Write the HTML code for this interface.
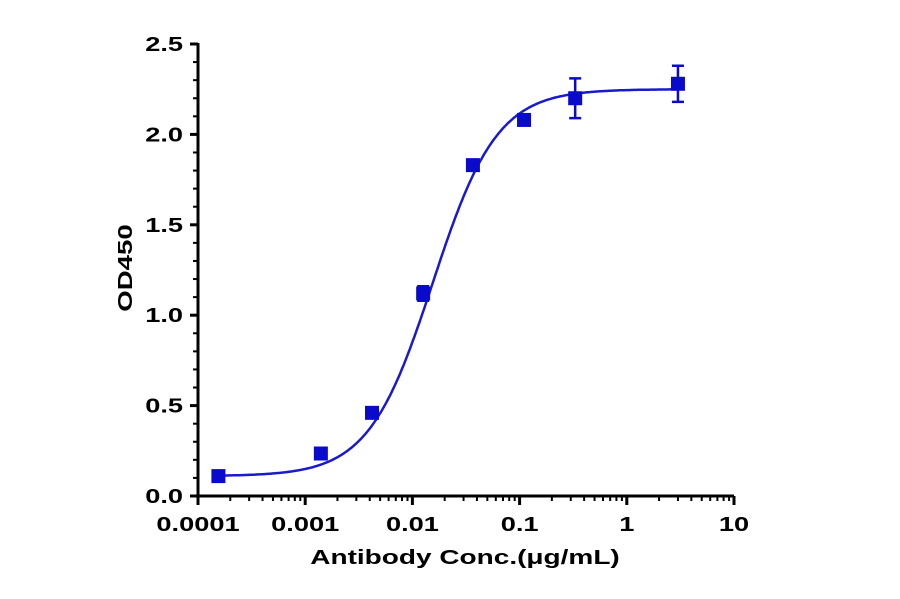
<!DOCTYPE html>
<html><head><meta charset="utf-8"><style>
body{margin:0;background:#fff}
svg text{font-family:"Liberation Sans",Arial,sans-serif;font-weight:bold;fill:#000}
</style></head><body>
<svg id="chart" width="900" height="594">
<g id="axes"></g>
<g id="marks"></g>
<text transform="translate(465,564) scale(1.4,1)" font-size="20" text-anchor="middle">Antibody Conc.(μg/mL)</text>
<text transform="translate(132,268) rotate(-90) scale(1.38,1)" font-size="20" text-anchor="middle">OD450</text>
</svg>
<script>
const xConc=[0.000155,0.0014,0.0042,0.0126,0.0367,0.11,0.33,3.0];
const yOD=[0.11,0.235,0.46,1.12,1.83,2.08,2.2,2.28];
const yErr=[0.01,0.02,0.02,0.04,0.02,0.02,0.11,0.1];
const xTicks=[0.0001,0.001,0.01,0.1,1,10];
const xTickLabels=["0.0001","0.001","0.01","0.1","1","10"];
const yTicks=[0,0.5,1.0,1.5,2.0,2.5];
const yTickLabels=["0.0","0.5","1.0","1.5","2.0","2.5"];
const fitBottom=0.11, fitTop=2.25, fitEC50=0.0155, fitHill=1.45;
const NS="http://www.w3.org/2000/svg";
const X0=198,X1=734,Y0=496,Y1=44;
const sx=v=>X0+(Math.log10(v)+4)/5*(X1-X0);
const sy=v=>Y0-v/2.5*(Y0-Y1);
function mk(tag,at,parent){const e=document.createElementNS(NS,tag);for(const k in at)e.setAttribute(k,at[k]);parent.appendChild(e);return e;}
const ax=document.getElementById('axes'),mg=document.getElementById('marks');
const xl=mk('line',{x1:X0-1,y1:Y0,x2:X1,y2:Y0,stroke:'#000','stroke-width':3},ax);


const yl=mk('line',{x1:X0,y1:Y0+1,x2:X0,y2:Y1-1,stroke:'#000','stroke-width':3},ax);


xTicks.forEach((t,i)=>{
  const x=sx(t);
  mk('line',{x1:x,y1:Y0,x2:x,y2:Y0+9,stroke:'#000','stroke-width':3},ax);
  if(i<xTicks.length-1){for(let m=2;m<=9;m++){const xm=sx(t*m);mk('line',{x1:xm,y1:Y0,x2:xm,y2:Y0+5,stroke:'#000','stroke-width':2},ax);}}
  const tx=mk('text',{transform:`translate(${x},531) scale(1.36,1)`,'font-size':20,'text-anchor':'middle'},ax);
  tx.textContent=xTickLabels[i];
  
  
});
yTicks.forEach((t,i)=>{
  const y=sy(t);
  mk('line',{x1:X0-8,y1:y,x2:X0,y2:y,stroke:'#000','stroke-width':3},ax);
  if(i<yTicks.length-1){for(let m=1;m<5;m++){const ym=sy(t+m*0.1);mk('line',{x1:X0-5,y1:ym,x2:X0,y2:ym,stroke:'#000','stroke-width':2},ax);}}
  const tx=mk('text',{transform:`translate(${X0-15},${y+7}) scale(1.36,1)`,'font-size':20,'text-anchor':'end'},ax);
  tx.textContent=yTickLabels[i];
  
  
});
let d='';
for(let k=0;k<=300;k++){const lx=Math.log10(xConc[0])+k/300*(Math.log10(xConc[xConc.length-1])-Math.log10(xConc[0]));const c=Math.pow(10,lx);
 const v=fitBottom+(fitTop-fitBottom)/(1+Math.pow(fitEC50/c,fitHill));d+=(k?'L':'M')+sx(c).toFixed(1)+','+sy(v).toFixed(1);}
const fit=mk('path',{d:d,fill:'none',stroke:'#1a1acc','stroke-width':2.5},mg);


xConc.forEach((c,i)=>{
  const x=sx(c),y=sy(yOD[i]);
  if(yErr[i]>0.03){const yt=sy(yOD[i]+yErr[i]),yb=sy(yOD[i]-yErr[i]);
    const eb=mk('path',{d:`M${x},${yt}L${x},${yb}M${x-6},${yt}L${x+6},${yt}M${x-6},${yb}L${x+6},${yb}`,stroke:'#0a0acc','stroke-width':2.5,fill:'none'},mg);
    
    }
  const r=mk('rect',{x:x-7,y:y-7,width:14,height:14,fill:'#0a0acc'},mg);
  
  
});
</script>
</body></html>
